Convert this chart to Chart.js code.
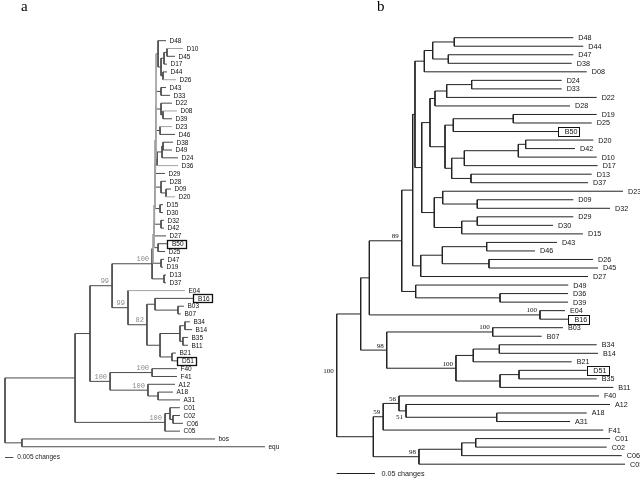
<!DOCTYPE html>
<html>
<head>
<meta charset="utf-8">
<script src="https://cdn.jsdelivr.net/npm/chart.js@4"></script>
<style>
  body { margin: 0; background: #fff; }
  #wrap { position: relative; width: 640px; height: 478px; background: #fff; }
  canvas { position: absolute; top: 0; }
  #treeA { left: 0; }
  #treeB { left: 320px; }
</style>
</head>
<body>
<div id="wrap">
  <canvas id="treeA" width="320" height="478"></canvas>
  <canvas id="treeB" width="320" height="478"></canvas>
</div>
<script>
// ---- Tree a : depths are distance from root in 0.001 changes ----
const leavesA = ['D48','D10','D45','D17','D44','D26','D43','D33','D22','D08','D39','D23','D46','D38','D49','D24','D36','D29','D28','D09','D20','D15','D30','D32','D42','D27','B50','D25','D47','D19','D13','D37','E04','B16','B03','B07','B34','B14','B35','B11','B21','D51','F40','F41','A12','A18','A31','C01','C02','C06','C05','bos','equ'];
const tipsA = [97,107.2,102.4,97.6,97.6,103,97,99.4,100.6,103.6,100.6,100.6,102.4,101.2,100.6,104.2,104.2,96.4,97,100,102.4,95.2,95.2,95.8,95.8,97,97.6,96.4,95.8,95.2,97,97,108.4,113.3,107.8,106,111.4,112.7,110.2,110.2,103,103.6,103.6,103.6,102.4,101.2,105.4,105.4,105.4,107.2,105.4,126.5,156.6];
const nodeIdsA = ['n1','n2','n3','n4','n5','n6','n7a','n7','n8','n9','n10','n11','dTop','n12','n13','n14','n15','n16','n17','n18','s8','s7','s6','s5','s4','s3','s2','dRoot','bB2','bB','bC1','bC2','bC','bD','bE','b82','e99','top99','fF','aA2','aA','fa','g90','cc2','cc1','cC','ing','out','rootA'];
const depthsA = [97.6,95.8,95.2,94,92.2,94,95.2,94,93.4,95.2,94.6,91.6,91,97,94,93.4,94,92.2,94,95.8,90.7,90.4,90.4,90.1,89.8,89.8,89.2,88.6,104.2,90.4,108.4,107.2,105.4,100.6,93.4,85.5,74.1,64.5,88.6,92.2,86.1,63.3,51.2,101.2,99.4,96.4,42.2,10.2,0];
const kidsA = [['D10','D45'],['n1','D17'],['D44','D26'],['n2','n3'],['D48','n4'],['D43','D33'],['D08','D39'],['D22','n7a'],['D23','D46'],['D38','D49'],['n9','D24'],['n10','D36'],['n5','n6','n7','n8','n11'],['D09','D20'],['D28','n12'],['D15','D30'],['D32','D42'],['B50','D25'],['D47','D19'],['D13','D37'],['dTop','D29'],['s8','n13'],['s7','n14'],['s6','n15'],['s5','D27'],['s4','n16'],['s3','n17'],['s2','n18'],['B03','B07'],['B16','bB2'],['B34','B14'],['B35','B11'],['bC1','bC2'],['B21','D51'],['bC','bD'],['bB','bE'],['E04','b82'],['dRoot','e99'],['F40','F41'],['A18','A31'],['A12','aA2'],['fF','aA'],['top99','fa'],['C02','C06'],['C01','cc2'],['cc1','C05'],['g90','cC'],['bos','equ'],['ing','out']];
const supportNodesA = ['dRoot','top99','e99','b82','fa','fF','aA','cC'];
const supportValuesA = ['100','99','99','82','100','100','100','100'];
const grayBranchesA = ['D10','D26','D08','D23','D36','D20','E04','dTop','s8','s7','s6','s5','s4','s3','s2'];

// ---- Tree b : depths in 0.001 changes ----
const leavesB = ['D48','D44','D47','D38','D08','D24','D33','D22','D28','D19','D25','B50','D20','D42','D10','D17','D13','D37','D23','D09','D32','D29','D30','D15','D43','D46','D26','D45','D27','D49','D36','D39','E04','B16','B03','B07','B34','B14','B21','D51','B35','B11','F40','A12','A18','A31','F41','C01','C02','C06','C05'];
const tipsB = [308.9,321.9,308.9,306.8,326.4,293.7,293.7,339.4,304.6,339.4,332.9,289.3,335,311.1,339.4,340.7,332.9,328.1,373.8,308.9,356.8,308.9,282.4,321.5,287.6,258.9,334.6,341.1,328.1,302.3,302,302,298,302,295.4,267.6,339.4,341.1,306.8,326.4,339.4,361.1,342.4,356.8,326.4,304.6,348,356.8,352.5,372.1,376.4];
const nodeIdsB = ['m1','m2','m3','cI','m4','m5','cII','m6','m7','m8','m9','m10','m11','m12','cIII','m13','m14','m15','m16','m17','cIV','m18','m19','m20','m21','m22','cV','m23','m24','m25','n89','eb','m26','bb1','bb2','bb3','bb4','bb5','bb6','b98','m27','a1','a51','a56','a59','c1','c2','c98','m28','rootB'];
const depthsB = [153.5,145.7,125.3,114.4,176.2,143.6,128.3,230.5,152.2,246.7,237.1,166.6,175.3,150.1,141.4,121.8,183.5,138.4,183.5,163.2,127.4,111,102.2,195.8,198.8,137.9,109.7,99.2,213.2,103.1,84.9,265.4,42.6,203.7,212.3,178.3,238,213.2,155.7,65.3,31.3,208.9,90.5,81.3,60.7,181.5,163.2,107.4,47.8,0];
const kidsB = [['D48','D44'],['D47','D38'],['m1','m2'],['m3','D08'],['D24','D33'],['m4','D22'],['m5','D28'],['D19','D25'],['m6','B50'],['D20','D42'],['m8','D10'],['m9','D17'],['D13','D37'],['m10','m11'],['m7','m12'],['cII','cIII'],['D09','D32'],['D23','m14'],['D29','D30'],['m16','D15'],['m15','m17'],['m13','cIV'],['cI','m18'],['D43','D46'],['D26','D45'],['m20','m21'],['m22','D27'],['m19','cV'],['D36','D39'],['D49','m24'],['m23','m25'],['E04','B16'],['n89','eb'],['B03','B07'],['B34','B14'],['bb2','B21'],['D51','B35'],['bb4','B11'],['bb3','bb5'],['bb1','bb6'],['m26','b98'],['A18','A31'],['A12','a1'],['F40','a51'],['a56','F41'],['C01','C02'],['c1','C06'],['c2','C05'],['a59','c98'],['m27','m28']];
const supportNodesB = ['n89','eb','bb1','b98','bb6','a56','a51','a59','c98','rootB'];
const supportValuesB = ['89','100','100','98','100','56','51','59','98','100'];
const supportBelowB = ['a51'];

const boxedLeaves = ['B50','B16','D51'];
const scaleBarA = { length: 5, label: '0.005 changes' };
const scaleBarB = { length: 50, label: '0.05 changes' };

// build node table: leaf rows are their index, inner nodes sit midway between first and last child
function buildTree(leaves, tips, ids, depths, kids) {
    const nodes = {};
    leaves.forEach((name, i) => { nodes[name] = { x: tips[i], y: i, kids: [] }; });
    ids.forEach((id, i) => { nodes[id] = { x: depths[i], y: null, kids: kids[i] }; });
    function place(id) {
        const n = nodes[id];
        if (n.y !== null) return n.y;
        const ys = n.kids.map(place);
        n.y = (ys[0] + ys[ys.length - 1]) / 2;
        return n.y;
    }
    ids.forEach(place);
    return nodes;
}

// branches -> point lists broken by null rows
function branchData(nodes, ids, grayList) {
    const dark = [], light = [];
    ids.forEach(id => {
        const n = nodes[id];
        const ys = n.kids.map(k => nodes[k].y);
        const target = grayList.includes(id) ? light : dark;
        target.push({ x: n.x, y: Math.min(...ys) }, { x: n.x, y: Math.max(...ys) }, { x: n.x, y: null });
        n.kids.forEach(k => {
            const c = nodes[k];
            const t = grayList.includes(k) ? light : dark;
            t.push({ x: n.x, y: c.y }, { x: c.x, y: c.y }, { x: c.x, y: null });
        });
    });
    return { dark, light };
}

function treeLabels(cfg) {
    return {
        id: 'treeLabels',
        afterDatasetsDraw(chart) {
            const ctx = chart.ctx, xs = chart.scales.x, ys = chart.scales.y;
            ctx.save();
            // leaf names
            ctx.font = cfg.leafFont;
            ctx.fillStyle = '#111';
            ctx.strokeStyle = '#111';
            ctx.textAlign = 'left';
            ctx.textBaseline = 'middle';
            cfg.leaves.forEach((name, i) => {
                const tip = xs.getPixelForValue(cfg.tips[i]);
                const y = ys.getPixelForValue(i);
                const boxed = boxedLeaves.includes(name);
                const tx = tip + (boxed ? cfg.gap + 1.5 : cfg.gap);
                ctx.fillText(name, tx, y + 0.5);
                if (boxed) {
                    const w = ctx.measureText(name).width;
                    ctx.lineWidth = cfg.boxWidth;
                    ctx.strokeRect(Math.round(tip) + 0.5, Math.round(y - cfg.boxH / 2) + 0.5, Math.round(tx + w + 2 - tip), cfg.boxH);
                }
            });
            // bootstrap values
            ctx.font = cfg.supportFont;
            ctx.fillStyle = cfg.supportColor;
            ctx.textAlign = 'right';
            ctx.textBaseline = 'alphabetic';
            cfg.supportNodes.forEach((id, i) => {
                const n = cfg.nodes[id];
                const x = xs.getPixelForValue(n.x) - 3;
                const y = ys.getPixelForValue(n.y);
                const below = cfg.below.includes(id);
                ctx.fillText(cfg.supportValues[i], x, below ? y + 8 : y - 2.5);
            });
            // scale bar
            const by = ys.getPixelForValue(cfg.leaves.length + cfg.barRow);
            const x0 = xs.getPixelForValue(0), x1 = xs.getPixelForValue(cfg.bar.length);
            ctx.strokeStyle = cfg.lineColor;
            ctx.lineWidth = 1;
            ctx.beginPath();
            ctx.moveTo(x0, Math.round(by) + 0.5);
            ctx.lineTo(x1, Math.round(by) + 0.5);
            ctx.stroke();
            ctx.font = cfg.leafFont;
            ctx.fillStyle = '#222';
            ctx.textAlign = 'left';
            ctx.textBaseline = 'middle';
            ctx.fillText(cfg.bar.label, x1 + cfg.barGap, by + 0.5);
            // panel letter
            ctx.font = '15px "Liberation Serif", "Times New Roman", serif';
            ctx.fillStyle = '#000';
            ctx.textBaseline = 'alphabetic';
            ctx.fillText(cfg.letter, cfg.letterX, 11);
            ctx.restore();
        }
    };
}

function drawTree(canvasId, nodes, ids, grayList, cfg) {
    const seg = branchData(nodes, ids, grayList);
    const lineSet = (data, color) => ({
        data: data, borderColor: color, borderWidth: 1, pointRadius: 0,
        spanGaps: false, tension: 0, borderCapStyle: 'butt', fill: false
    });
    return new Chart(document.getElementById(canvasId), {
        type: 'line',
        data: { datasets: [lineSet(seg.light, cfg.grayColor), lineSet(seg.dark, cfg.lineColor)] },
        options: {
            responsive: false,
            animation: false,
            events: [],
            layout: { padding: 0 },
            plugins: { legend: { display: false }, tooltip: { enabled: false } },
            scales: {
                x: { type: 'linear', display: false, min: cfg.xMin, max: cfg.xMax },
                y: { type: 'linear', display: false, reverse: true, min: cfg.yMin, max: cfg.yMax }
            }
        },
        plugins: [treeLabels(cfg)]
    });
}

const treeA = buildTree(leavesA, tipsA, nodeIdsA, depthsA, kidsA);
const treeB = buildTree(leavesB, tipsB, nodeIdsB, depthsB, kidsB);

drawTree('treeA', treeA, nodeIdsA, grayBranchesA, {
    nodes: treeA, leaves: leavesA, tips: tipsA,
    supportNodes: supportNodesA, supportValues: supportValuesA, below: [],
    xMin: -3.01, xMax: 189.76, yMin: -5.21, yMax: 56.0,
    lineColor: '#4a4a4a', grayColor: '#a2a2a2',
    leafFont: '6.5px "Liberation Sans", Arial, sans-serif',
    supportFont: '7px "Liberation Mono", "Courier New", monospace',
    supportColor: '#8a8a8a',
    gap: 3.5, boxH: 8, boxWidth: 1.3,
    bar: scaleBarA, barRow: 0.27, barGap: 4,
    letter: 'a', letterX: 21
});

drawTree('treeB', treeB, nodeIdsB, [], {
    nodes: treeB, leaves: leavesB, tips: tipsB,
    supportNodes: supportNodesB, supportValues: supportValuesB, below: supportBelowB,
    xMin: -21.8, xMax: 395.96, yMin: -4.42, yMax: 51.62,
    lineColor: '#222', grayColor: '#222',
    leafFont: '7.2px "Liberation Sans", Arial, sans-serif',
    supportFont: '7px "Liberation Serif", "Times New Roman", serif',
    supportColor: '#111',
    gap: 5, boxH: 9, boxWidth: 1,
    bar: scaleBarB, barRow: 0.07, barGap: 6.5,
    letter: 'b', letterX: 57
});
</script>
</body>
</html>
